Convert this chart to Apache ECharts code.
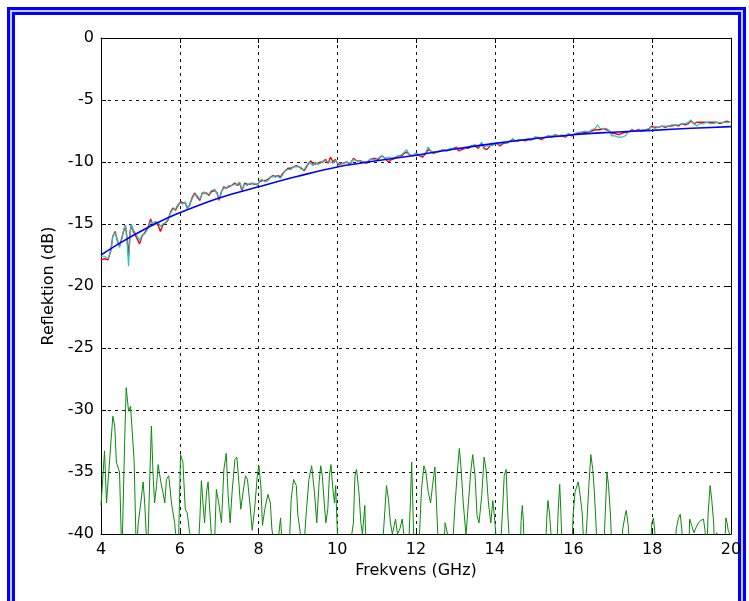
<!DOCTYPE html>
<html>
<head>
<meta charset="utf-8">
<script src="https://cdn.jsdelivr.net/npm/echarts@6/dist/echarts.min.js"></script>
<style>
  html, body { margin: 0; padding: 0; background: #fff; }
  #chart { width: 749px; height: 601px; }
</style>
</head>
<body>
<div id="chart"></div>
<script>
// x ticks (GHz) and y ticks (dB)
const xTicks = [4, 6, 8, 10, 12, 14, 16, 18, 20];
const yTicks = [0, -5, -10, -15, -20, -25, -30, -35, -40];

// measured reflection: [GHz, red, cyan]
const measured = [
  [4.00, -17.9, -17.6], [4.09, -17.8, -17.6], [4.18, -17.9, -17.8], [4.25, -17.1, -17.2],
  [4.30, -16.0, -16.0], [4.36, -15.6, -15.7], [4.41, -16.3, -16.2], [4.47, -16.8, -16.9],
  [4.53, -16.1, -16.2], [4.58, -15.5, -15.4], [4.62, -15.1, -15.1], [4.66, -16.1, -16.3],
  [4.70, -17.6, -18.4], [4.74, -15.6, -15.8], [4.77, -15.1, -15.0], [4.82, -15.6, -15.5],
  [4.87, -15.9, -15.7], [4.92, -16.2, -16.0], [4.98, -16.6, -16.3], [5.04, -16.0, -15.9],
  [5.11, -15.7, -15.8], [5.19, -15.3, -15.4], [5.26, -14.6, -14.8], [5.32, -15.1, -15.0],
  [5.38, -14.8, -14.8], [5.45, -15.1, -14.9], [5.51, -15.6, -15.2], [5.57, -15.1, -15.0],
  [5.64, -14.9, -14.9], [5.70, -14.7, -14.6], [5.77, -14.0, -14.1], [5.83, -13.7, -13.8],
  [5.89, -13.9, -13.8], [5.96, -13.5, -13.4], [6.02, -13.2, -13.3], [6.08, -13.3, -13.4],
  [6.14, -13.3, -13.2], [6.19, -13.7, -13.8], [6.25, -13.5, -13.4], [6.31, -12.9, -13.0],
  [6.38, -12.5, -12.6], [6.44, -12.8, -12.7], [6.51, -13.1, -13.0], [6.57, -12.5, -12.6],
  [6.62, -12.4, -12.4], [6.68, -12.5, -12.6], [6.74, -12.7, -12.6], [6.80, -12.4, -12.3],
  [6.89, -12.3, -12.2], [6.95, -12.5, -12.6], [7.00, -13.1, -13.0], [7.06, -12.4, -12.4],
  [7.12, -12.0, -12.1], [7.18, -12.1, -12.1], [7.24, -12.0, -11.9], [7.31, -11.9, -11.9],
  [7.40, -11.7, -11.8], [7.46, -11.9, -11.8], [7.52, -11.7, -11.6], [7.58, -12.3, -12.2],
  [7.65, -11.7, -11.8], [7.72, -11.8, -11.9], [7.78, -11.8, -11.7], [7.84, -11.7, -11.8],
  [7.90, -11.8, -11.7], [7.97, -11.8, -11.9], [8.03, -11.6, -11.5], [8.09, -11.5, -11.4],
  [8.16, -11.5, -11.6], [8.24, -11.4, -11.5], [8.31, -11.2, -11.2], [8.37, -11.1, -11.2],
  [8.43, -11.2, -11.1], [8.50, -11.1, -11.2], [8.56, -11.2, -11.3], [8.62, -10.9, -11.0],
  [8.68, -10.7, -10.7], [8.75, -10.5, -10.6], [8.82, -10.5, -10.6], [8.89, -10.4, -10.4],
  [8.96, -10.3, -10.4], [9.03, -10.4, -10.4], [9.09, -10.5, -10.6], [9.16, -10.7, -10.6],
  [9.22, -10.4, -10.3], [9.28, -10.1, -10.0], [9.33, -9.9, -9.9], [9.39, -10.2, -10.3],
  [9.44, -10.1, -10.0], [9.51, -10.1, -10.2], [9.58, -10.0, -10.1], [9.64, -10.0, -9.9],
  [9.70, -9.8, -9.9], [9.77, -10.1, -10.0], [9.83, -9.6, -10.0], [9.89, -10.0, -10.1],
  [9.95, -9.8, -9.9], [10.02, -10.2, -10.1], [10.07, -10.2, -10.2], [10.15, -10.1, -10.1],
  [10.24, -10.0, -10.0], [10.32, -10.2, -10.1], [10.41, -9.7, -9.8], [10.49, -9.9, -9.9],
  [10.58, -9.9, -9.9], [10.66, -10.0, -10.0], [10.75, -10.1, -10.0], [10.83, -9.8, -9.8],
  [10.96, -9.7, -9.8], [11.04, -9.8, -9.7], [11.13, -9.5, -9.5], [11.21, -9.7, -9.7],
  [11.30, -10.0, -9.6], [11.38, -9.8, -9.7], [11.47, -9.7, -9.6], [11.55, -9.5, -9.5],
  [11.64, -9.5, -9.4], [11.70, -9.3, -9.2], [11.76, -9.2, -9.0], [11.83, -9.4, -9.4],
  [11.92, -9.5, -9.5], [12.00, -9.3, -9.3], [12.09, -9.5, -9.4], [12.17, -9.6, -9.5],
  [12.25, -9.3, -9.2], [12.31, -9.0, -8.8], [12.37, -9.1, -9.1], [12.44, -9.3, -9.2],
  [12.53, -9.2, -9.2], [12.61, -9.1, -9.1], [12.70, -9.0, -9.0], [12.78, -9.1, -9.1],
  [12.86, -9.0, -8.9], [12.95, -8.9, -8.9], [13.03, -8.8, -8.9], [13.08, -9.1, -9.0],
  [13.16, -9.0, -8.9], [13.25, -8.9, -8.9], [13.33, -8.9, -8.8], [13.41, -8.7, -8.7],
  [13.50, -8.7, -8.6], [13.58, -8.9, -8.8], [13.67, -8.5, -8.4], [13.73, -8.9, -8.8],
  [13.80, -9.0, -8.7], [13.88, -8.7, -8.7], [13.97, -8.6, -8.6], [14.05, -8.5, -8.5],
  [14.13, -8.7, -8.6], [14.22, -8.5, -8.4], [14.30, -8.5, -8.5], [14.39, -8.3, -8.3],
  [14.46, -8.2, -8.1], [14.52, -8.3, -8.3], [14.60, -8.3, -8.2], [14.68, -8.2, -8.2],
  [14.77, -8.3, -8.2], [14.85, -8.2, -8.1], [14.94, -8.2, -8.2], [15.02, -8.0, -8.0],
  [15.11, -8.1, -8.0], [15.19, -8.2, -8.1], [15.28, -8.0, -8.0], [15.36, -7.9, -7.9],
  [15.45, -8.0, -7.9], [15.53, -7.8, -7.8], [15.62, -7.9, -7.9], [15.70, -7.9, -7.8],
  [15.79, -8.0, -7.9], [15.87, -7.8, -7.7], [15.96, -7.9, -7.8], [16.04, -7.7, -7.7],
  [16.12, -7.7, -7.6], [16.21, -7.6, -7.6], [16.29, -7.6, -7.5], [16.38, -7.6, -7.6],
  [16.46, -7.5, -7.4], [16.55, -7.4, -7.3], [16.61, -7.4, -7.0], [16.67, -7.4, -7.3],
  [16.76, -7.3, -7.3], [16.84, -7.4, -7.3], [16.91, -7.5, -7.5], [16.97, -7.7, -7.9],
  [17.06, -7.7, -7.9], [17.14, -7.8, -8.0], [17.22, -7.7, -8.0], [17.31, -7.6, -7.9],
  [17.39, -7.6, -7.6], [17.48, -7.4, -7.5], [17.56, -7.5, -7.5], [17.65, -7.4, -7.5],
  [17.73, -7.5, -7.4], [17.82, -7.4, -7.4], [17.90, -7.4, -7.3], [17.99, -7.1, -7.2],
  [18.07, -7.2, -7.3], [18.16, -7.2, -7.2], [18.24, -7.1, -7.1], [18.33, -7.2, -7.1],
  [18.41, -7.1, -7.1], [18.50, -7.1, -7.0], [18.58, -7.0, -7.0], [18.67, -7.1, -7.0],
  [18.75, -6.9, -6.9], [18.83, -7.0, -6.9], [18.92, -6.9, -6.8], [18.98, -6.7, -6.6],
  [19.05, -6.9, -6.9], [19.13, -6.8, -7.1], [19.21, -6.8, -6.9], [19.30, -6.8, -6.9],
  [19.38, -6.8, -6.8], [19.47, -6.8, -6.9], [19.55, -6.8, -6.9], [19.64, -6.8, -6.8],
  [19.72, -6.9, -6.8], [19.81, -6.8, -6.8], [19.89, -6.7, -6.8], [19.98, -6.8, -6.8]
];

// fitted curve
const fitFreq = [4, 4.5, 5, 5.5, 6, 7, 8, 9, 10, 11, 12, 13, 14, 15, 16, 17, 18, 19, 20];
const fitDb = [-17.5, -16.5, -15.6, -14.8, -14.1, -12.9, -12.0, -11.15, -10.4, -9.9, -9.45, -8.95, -8.5, -8.12, -7.8, -7.6, -7.45, -7.28, -7.15];

// residual / noise floor (values below -40 run off the axis)
const noise = [
  [4.00, -37.7], [4.09, -33.3], [4.14, -37.5], [4.22, -34.0], [4.30, -30.5], [4.35, -31.3],
  [4.39, -34.2], [4.47, -35.0], [4.53, -42], [4.60, -32.6], [4.64, -28.2], [4.70, -30.1],
  [4.75, -29.7], [4.80, -29.7], [4.84, -34.0], [4.90, -42], [4.94, -39.3], [5.01, -37.5],
  [5.07, -35.8], [5.11, -37.5], [5.18, -42], [5.24, -35.3], [5.28, -31.3], [5.32, -35.0],
  [5.36, -37.5], [5.41, -36.1], [5.45, -34.4], [5.52, -35.8], [5.57, -36.6], [5.62, -37.5],
  [5.66, -35.6], [5.72, -35.3], [5.79, -37.5], [5.87, -39.1], [5.96, -42], [6.02, -33.6],
  [6.08, -34.2], [6.14, -38.0], [6.19, -38.3], [6.25, -39.9], [6.34, -42], [6.46, -42],
  [6.51, -38.8], [6.55, -35.7], [6.59, -37.5], [6.63, -39.1], [6.68, -36.6], [6.72, -35.8],
  [6.76, -38.0], [6.80, -39.9], [6.87, -42], [6.93, -36.4], [6.99, -37.5], [7.06, -39.1],
  [7.12, -34.8], [7.18, -33.5], [7.23, -36.9], [7.28, -39.1], [7.33, -36.6], [7.40, -34.0],
  [7.45, -33.8], [7.50, -35.8], [7.55, -38.0], [7.61, -36.6], [7.67, -35.3], [7.72, -35.6],
  [7.78, -37.5], [7.84, -39.7], [7.90, -38.0], [7.97, -35.3], [8.01, -34.5], [8.06, -36.1],
  [8.10, -39.3], [8.16, -38.0], [8.24, -36.8], [8.30, -37.5], [8.34, -39.6], [8.45, -42],
  [8.56, -38.7], [8.62, -42], [8.77, -42], [8.83, -37.2], [8.89, -35.6], [8.96, -36.1],
  [9.00, -38.5], [9.05, -39.6], [9.13, -42], [9.22, -38.0], [9.28, -35.6], [9.35, -34.5],
  [9.42, -36.6], [9.48, -39.1], [9.54, -35.8], [9.58, -34.5], [9.62, -35.3], [9.67, -37.5],
  [9.71, -39.1], [9.76, -38.0], [9.80, -35.3], [9.84, -34.4], [9.89, -36.4], [9.93, -37.5],
  [9.96, -36.1], [9.99, -38.8], [10.03, -42], [10.28, -42], [10.41, -39.1], [10.45, -35.3],
  [10.49, -34.8], [10.55, -36.6], [10.60, -39.1], [10.64, -40], [10.70, -37.7], [10.74, -42],
  [11.13, -42], [11.25, -36.1], [11.30, -37.2], [11.35, -39.1], [11.40, -40], [11.48, -38.8],
  [11.53, -40], [11.59, -39.6], [11.65, -38.8], [11.69, -40], [11.80, -42], [11.86, -37.3],
  [11.89, -34.2], [11.94, -40], [12.06, -42], [12.14, -36.4], [12.20, -34.5], [12.25, -35.0],
  [12.31, -36.6], [12.37, -37.5], [12.42, -36.1], [12.48, -34.6], [12.52, -37.5], [12.58, -42],
  [12.69, -42], [12.74, -39.1], [12.80, -40], [12.91, -42], [12.99, -37.7], [13.05, -35.0],
  [13.10, -33.1], [13.14, -34.5], [13.20, -37.5], [13.27, -40.1], [13.33, -37.5], [13.39, -35.0],
  [13.44, -33.6], [13.50, -35.3], [13.55, -38.5], [13.60, -39.1], [13.67, -36.9], [13.73, -33.8],
  [13.78, -34.8], [13.84, -37.5], [13.90, -39.1], [13.95, -37.3], [13.99, -38.5], [14.03, -40.1],
  [14.13, -42], [14.20, -38.0], [14.24, -35.3], [14.29, -34.8], [14.33, -38.3], [14.36, -40],
  [14.51, -42], [14.64, -42], [14.67, -38.9], [14.70, -37.7], [14.73, -39.1], [14.75, -42],
  [15.28, -42], [15.32, -38.8], [15.35, -37.3], [15.39, -38.3], [15.43, -40.1], [15.57, -42],
  [15.61, -38.1], [15.65, -36.0], [15.68, -38.3], [15.72, -42], [15.95, -42], [15.99, -38.5],
  [16.04, -36.6], [16.08, -36.2], [16.12, -35.8], [16.17, -36.9], [16.22, -38.3], [16.28, -42],
  [16.34, -39.1], [16.39, -36.1], [16.44, -33.6], [16.49, -34.8], [16.53, -36.6], [16.57, -39.1],
  [16.61, -42], [16.76, -42], [16.80, -38.8], [16.85, -35.0], [16.89, -36.1], [16.94, -38.5],
  [16.98, -42], [17.21, -42], [17.25, -39.6], [17.31, -38.5], [17.34, -38.1], [17.39, -39.3],
  [17.44, -42], [17.94, -42], [17.99, -39.1], [18.03, -38.7], [18.07, -40], [18.11, -42],
  [18.56, -42], [18.61, -39.6], [18.66, -38.8], [18.71, -38.4], [18.75, -39.6], [18.79, -42],
  [18.92, -42], [18.95, -38.8], [19.00, -39.3], [19.06, -39.9], [19.11, -39.5], [19.17, -39.1],
  [19.24, -38.9], [19.30, -38.8], [19.34, -39.7], [19.38, -42], [19.42, -38.3], [19.47, -36.1],
  [19.51, -37.2], [19.56, -39.1], [19.59, -42], [19.64, -39.9], [19.68, -42], [19.83, -42],
  [19.87, -38.7], [19.90, -39.1], [19.93, -39.7], [19.98, -40.1]
];

const chart = echarts.init(document.getElementById('chart'), null, { renderer: 'canvas' });

const font = 'DejaVu Sans';
const axisLine = { show: true, onZero: false, lineStyle: { color: '#000', width: 1 } };
const tick = { show: true, inside: true, length: 5, lineStyle: { color: '#000' } };
const grid = { show: true, lineStyle: { color: '#111', width: 1, type: [3, 4] } };

const option = {
  backgroundColor: '#fff',
  animation: false,
  grid: { left: 101, right: 18, top: 38, bottom: 67, containLabel: false },
  xAxis: [{
    type: 'value', min: xTicks[0], max: xTicks[xTicks.length - 1], interval: 2,
    axisLine, axisTick: tick, splitLine: grid,
    axisLabel: { color: '#000', fontFamily: font, fontSize: 16, margin: 8 },
    name: 'Frekvens (GHz)', nameLocation: 'middle', nameGap: 28,
    nameTextStyle: { color: '#000', fontFamily: font, fontSize: 16 }
  }, {
    type: 'value', position: 'top', min: xTicks[0], max: xTicks[xTicks.length - 1], interval: 2,
    axisLine, axisTick: tick, axisLabel: { show: false }, splitLine: { show: false }
  }],
  yAxis: [{
    type: 'value', min: yTicks[yTicks.length - 1], max: yTicks[0], interval: 5,
    axisLine, axisTick: tick, splitLine: grid,
    axisLabel: { color: '#000', fontFamily: font, fontSize: 16, margin: 7 },
    name: 'Reflektion (dB)', nameLocation: 'middle', nameGap: 42,
    nameTextStyle: { color: '#000', fontFamily: font, fontSize: 16 }
  }, {
    type: 'value', position: 'right', min: yTicks[yTicks.length - 1], max: yTicks[0], interval: 5,
    axisLine, axisTick: tick, axisLabel: { show: false }, splitLine: { show: false }
  }],
  graphic: [
    { type: 'rect', shape: { x: 8.5, y: 8.5, width: 736, height: 600 }, style: { fill: 'none', stroke: '#0000ff', lineWidth: 3 }, silent: true },
    { type: 'rect', shape: { x: 11, y: 11, width: 731, height: 600 }, style: { fill: 'none', stroke: '#c8c8ff', lineWidth: 2 }, silent: true },
    { type: 'rect', shape: { x: 13.5, y: 13.5, width: 726, height: 600 }, style: { fill: 'none', stroke: '#0000ff', lineWidth: 3 }, silent: true }
  ],
  series: [
    {
      type: 'line', name: 'red', showSymbol: false, clip: true,
      data: measured.map(r => [r[0], r[1]]),
      lineStyle: { color: '#ff0000', width: 1.4 }
    },
    {
      type: 'line', name: 'cyan', showSymbol: false, clip: true,
      data: measured.map(r => [r[0], r[2]]),
      lineStyle: { color: '#22c4c4', width: 1.2 }
    },
    {
      type: 'line', name: 'fit', showSymbol: false, clip: true, smooth: 0.4,
      data: fitFreq.map((f, i) => [f, fitDb[i]]),
      lineStyle: { color: '#0000ff', width: 1.6 }
    },
    {
      type: 'line', name: 'noise', showSymbol: false, clip: true,
      data: noise,
      lineStyle: { color: '#0a8a0a', width: 1 }
    }
  ]
};

chart.setOption(option);
</script>
</body>
</html>
